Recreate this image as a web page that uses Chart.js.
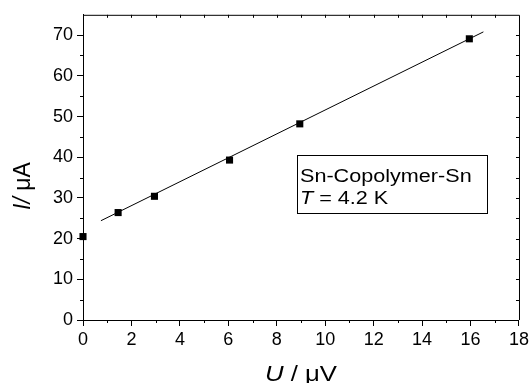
<!DOCTYPE html>
<html>
<head>
<meta charset="utf-8">
<script src="https://cdn.jsdelivr.net/npm/chart.js@4"></script>
<style>
  html, body { margin: 0; padding: 0; background: #fff; }
  #wrap { width: 532px; height: 383px; }
</style>
</head>
<body>
<div id="wrap"><canvas id="chart"></canvas></div>
<script>
// measured points
const uValues = [0, 1.45, 2.95, 6.05, 8.95, 15.95];
const iValues = [20.5, 26.4, 30.4, 39.3, 48.2, 69.1];

// linear fit end points
const fitU = [0.74, 16.53];
const fitI = [24.4, 70.8];

// axis ranges
const xRange = [0, 18];
const yRange = [0, 75];
const xStep = 2;
const yStep = 10;

const labelLines = ["Sn-Copolymer-Sn", "= 4.2 K"];

const FONT = "'Liberation Sans', Arial, sans-serif";

function stretchedText(ctx, parts, x, y, sx) {
    // parts: [[text, italic]]
    ctx.save();
    ctx.translate(x, y);
    ctx.scale(sx, 1);
    let cx = 0;
    parts.forEach(function (p) {
        ctx.font = (p[1] ? "italic " : "") + p[2] + "px " + FONT;
        ctx.fillText(p[0], cx, 0);
        cx += ctx.measureText(p[0]).width;
    });
    ctx.restore();
}

const framePlugin = {
    id: "frame",
    afterDraw(chart) {
        const ctx = chart.ctx;
        const a = chart.chartArea;
        const x = chart.scales.x;
        const y = chart.scales.y;
        ctx.save();
        ctx.strokeStyle = "#000";
        ctx.lineWidth = 1;
        ctx.beginPath();
        // top and right frame
        ctx.moveTo(a.left, a.top + 0.5);
        ctx.lineTo(a.right + 0.5, a.top + 0.5);
        ctx.lineTo(a.right + 0.5, a.bottom);
        // minor ticks bottom, ticks top
        for (let v = xRange[0] + 1; v < xRange[1]; v++) {
            const px = Math.round(x.getPixelForValue(v)) + 0.5;
            if (v % 2 === 1) {
                ctx.moveTo(px, a.bottom);
                ctx.lineTo(px, a.bottom + 3);
            }
            ctx.moveTo(px, a.top);
            ctx.lineTo(px, a.top + 3);
        }
        // minor ticks left, ticks right
        for (let v = 5; v < yRange[1]; v += 5) {
            const py = Math.round(y.getPixelForValue(v)) + 0.5;
            if (v % 10 === 5) {
                ctx.moveTo(a.left - 3, py);
                ctx.lineTo(a.left, py);
            }
            ctx.moveTo(a.right - 3, py);
            ctx.lineTo(a.right, py);
        }
        ctx.stroke();

        // text box
        ctx.strokeRect(297.5, 155.5, 190, 58);
        ctx.fillStyle = "#000";
        ctx.textBaseline = "alphabetic";
        stretchedText(ctx, [[labelLines[0], false, 18]], 300, 182, 1.2);
        stretchedText(ctx, [["T", true, 18], [" " + labelLines[1], false, 18]], 300, 204, 1.2);

        // axis titles
        stretchedText(ctx, [["U", true, 22], [" / \u03bcV", false, 22]], 265, 381, 1.17);
        ctx.save();
        ctx.translate(30, 210);
        ctx.rotate(-Math.PI / 2);
        ctx.font = "italic 23px " + FONT;
        ctx.fillText("I/", 0, 0);
        const w = ctx.measureText("I/").width;
        ctx.font = "23px " + FONT;
        ctx.fillText(" \u03bcA", w, 0);
        ctx.restore();
        ctx.restore();
    }
};

const ctx1 = document.getElementById("chart").getContext("2d");

new Chart(ctx1, {
    type: "scatter",
    data: {
        datasets: [{
            label: "data",
            data: uValues.map((u, i) => ({ x: u, y: iValues[i] })),
            pointStyle: "rect",
            pointRadius: 5,
            pointBorderWidth: 0,
            backgroundColor: "#000",
            borderColor: "#000",
            clip: false
        }, {
            label: "fit",
            data: fitU.map((u, i) => ({ x: u, y: fitI[i] })),
            showLine: true,
            pointRadius: 0,
            borderColor: "#000",
            borderWidth: 1
        }]
    },
    options: {
        responsive: true,
        maintainAspectRatio: false,
        animation: false,
        events: [],
        layout: {
            padding: { left: 0, right: 12, top: 13, bottom: 0 }
        },
        plugins: {
            legend: { display: false },
            tooltip: { enabled: false }
        },
        scales: {
            x: {
                type: "linear",
                min: xRange[0],
                max: xRange[1],
                afterFit: (s) => { s.height = 63; },
                border: { color: "#000", width: 1 },
                grid: {
                    drawOnChartArea: false,
                    drawTicks: true,
                    tickLength: 6,
                    color: "#000"
                },
                ticks: {
                    stepSize: xStep,
                    color: "#000",
                    padding: 3,
                    maxRotation: 0,
                    font: { size: 18, family: FONT }
                }
            },
            y: {
                type: "linear",
                min: yRange[0],
                max: yRange[1],
                afterFit: (s) => { s.width = 83; },
                afterBuildTicks: (s) => { s.ticks = s.ticks.filter(t => t.value <= 70); },
                border: { color: "#000", width: 1 },
                grid: {
                    drawOnChartArea: false,
                    drawTicks: true,
                    tickLength: 6,
                    color: "#000"
                },
                ticks: {
                    stepSize: yStep,
                    color: "#000",
                    padding: 4,
                    font: { size: 18, family: FONT }
                }
            }
        }
    },
    plugins: [framePlugin]
});
</script>
</body>
</html>
